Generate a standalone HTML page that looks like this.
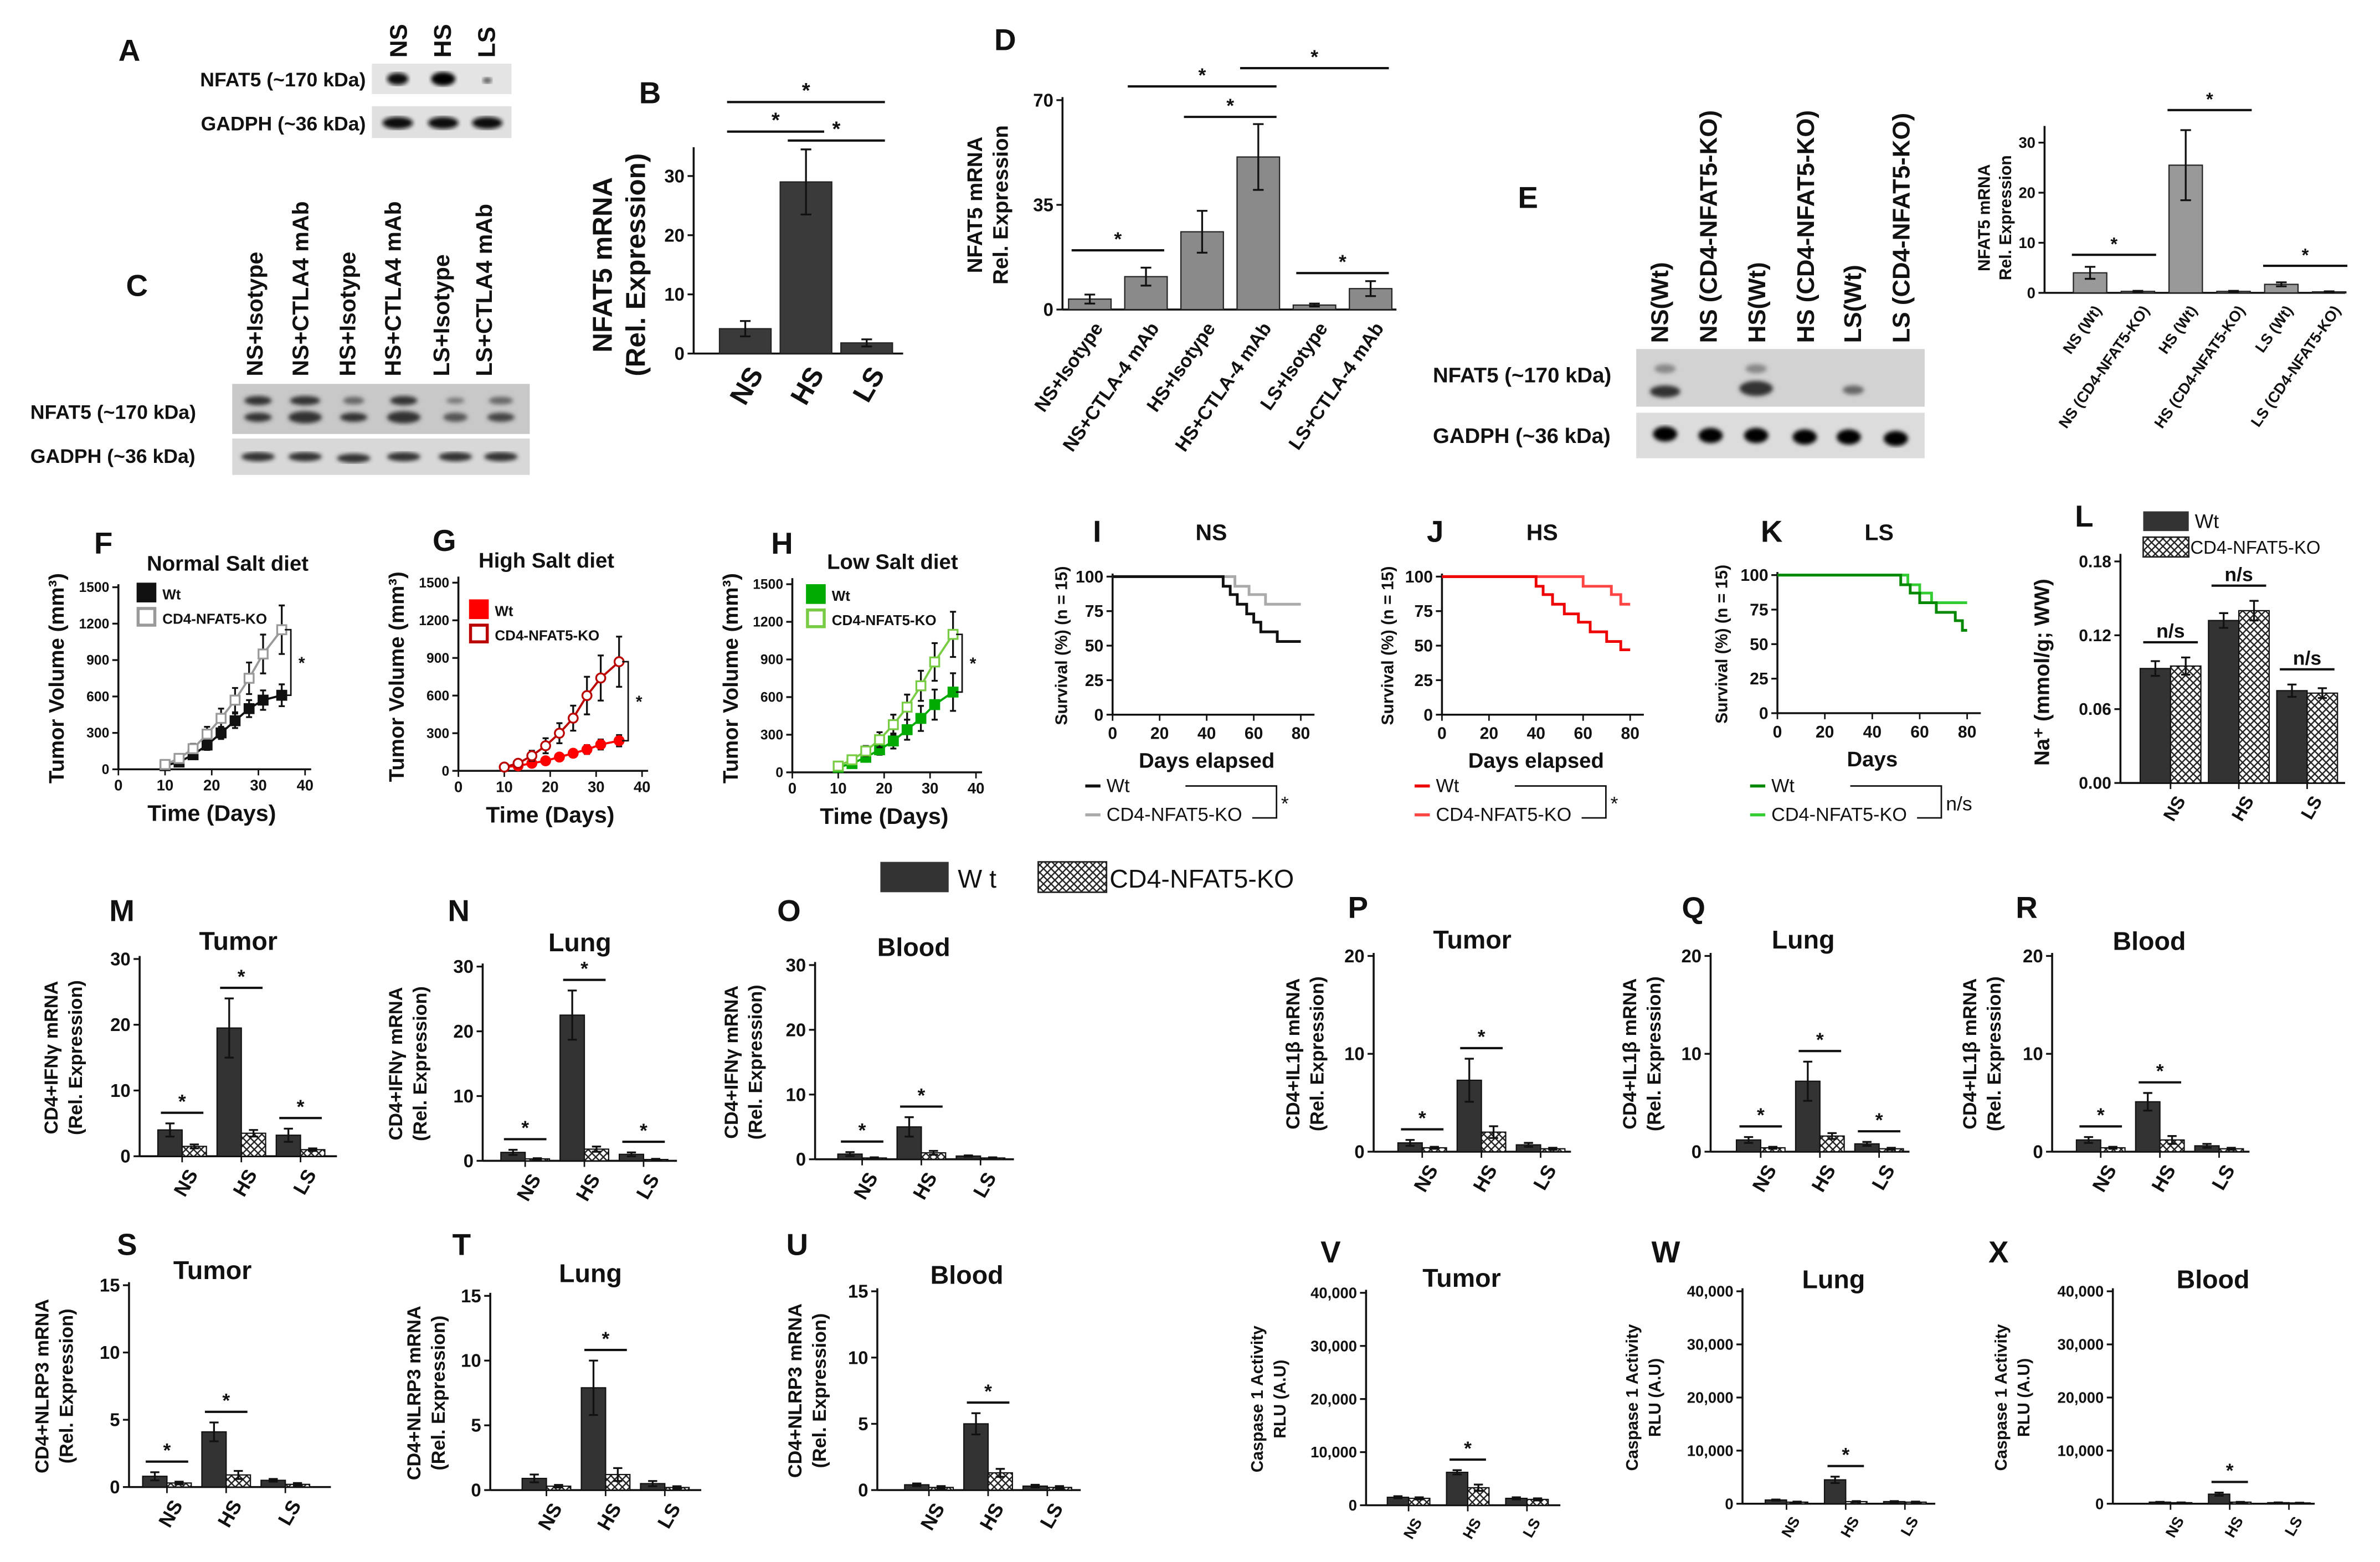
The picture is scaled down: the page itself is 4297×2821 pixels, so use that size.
<!DOCTYPE html>
<html><head><meta charset="utf-8">
<style>
html,body{margin:0;padding:0;background:#fff}
svg{display:block}
text{font-family:"Liberation Sans",Arial,sans-serif;font-weight:bold;fill:#111}
</style></head>
<body>
<svg id="fig" width="4297" height="2821" viewBox="0 0 1568 1029.4" preserveAspectRatio="none">
<defs>
<pattern id="hatch" width="5" height="5" patternUnits="userSpaceOnUse"><rect width="5" height="5" fill="#fff"/><path d="M0,0L5,5M5,0L0,5" stroke="#222" stroke-width="0.9"/></pattern>
<filter id="blur"><feGaussianBlur stdDeviation="1.4"/></filter>
</defs>

<!-- Panel A -->
<g>
<text x="78" y="40" font-size="20">A</text>
<text transform="translate(268,38) rotate(-90)" font-size="16">NS</text>
<text transform="translate(297,38) rotate(-90)" font-size="16">HS</text>
<text transform="translate(326,38) rotate(-90)" font-size="16">LS</text>
<text x="241" y="57" font-size="13" text-anchor="end">NFAT5 (~170 kDa)</text>
<text x="241" y="86" font-size="13" text-anchor="end">GADPH (~36 kDa)</text>
<rect x="245" y="42" width="92" height="20" fill="#e4e4e4"/>
<ellipse cx="262" cy="52" rx="7" ry="4" fill="#111" filter="url(#blur)"/>
<ellipse cx="292" cy="52" rx="8" ry="4.5" fill="#000" filter="url(#blur)"/>
<ellipse cx="321" cy="53" rx="3" ry="2" fill="#555" filter="url(#blur)"/>
<rect x="245" y="70" width="92" height="21" fill="#e0e0e0"/>
<ellipse cx="262" cy="81" rx="10" ry="4" fill="#111" filter="url(#blur)"/>
<ellipse cx="292" cy="81" rx="10" ry="4" fill="#111" filter="url(#blur)"/>
<ellipse cx="321" cy="81" rx="10" ry="4" fill="#111" filter="url(#blur)"/>
</g>

<!-- Panel C -->
<g>
<text x="83" y="195" font-size="20">C</text>
<text transform="translate(173,248) rotate(-90)" font-size="15">NS+Isotype</text>
<text transform="translate(203,248) rotate(-90)" font-size="15">NS+CTLA4 mAb</text>
<text transform="translate(234,248) rotate(-90)" font-size="15">HS+Isotype</text>
<text transform="translate(264,248) rotate(-90)" font-size="15">HS+CTLA4 mAb</text>
<text transform="translate(296,248) rotate(-90)" font-size="15">LS+Isotype</text>
<text transform="translate(324,248) rotate(-90)" font-size="15">LS+CTLA4 mAb</text>
<text x="20" y="276" font-size="13">NFAT5 (~170 kDa)</text>
<text x="20" y="305" font-size="13">GADPH (~36 kDa)</text>
<rect x="153" y="253" width="196" height="33" fill="#c8c8c8"/>
<g fill="#333" filter="url(#blur)">
<ellipse cx="170" cy="264" rx="9" ry="3"/><ellipse cx="170" cy="275" rx="9" ry="3"/>
<ellipse cx="201" cy="264" rx="10" ry="3"/><ellipse cx="201" cy="275" rx="11" ry="4"/>
<ellipse cx="233" cy="264" rx="7" ry="2.5" fill="#666"/><ellipse cx="233" cy="275" rx="9" ry="3"/>
<ellipse cx="266" cy="264" rx="9" ry="3"/><ellipse cx="266" cy="275" rx="11" ry="4"/>
<ellipse cx="300" cy="264" rx="6" ry="2" fill="#777"/><ellipse cx="300" cy="275" rx="8" ry="3" fill="#555"/>
<ellipse cx="330" cy="264" rx="8" ry="2.5" fill="#666"/><ellipse cx="330" cy="275" rx="9" ry="3" fill="#444"/>
</g>
<rect x="153" y="289" width="196" height="24" fill="#d8d8d8"/>
<g fill="#333" filter="url(#blur)">
<ellipse cx="170" cy="301" rx="11" ry="3"/><ellipse cx="201" cy="301" rx="11" ry="3"/><ellipse cx="233" cy="302" rx="11" ry="3"/>
<ellipse cx="266" cy="301" rx="11" ry="3"/><ellipse cx="300" cy="301" rx="11" ry="3"/><ellipse cx="330" cy="301" rx="11" ry="3"/>
</g>
</g>

<!-- Panel E -->
<g>
<text x="1000" y="137" font-size="20">E</text>
<text transform="translate(1099,226) rotate(-90)" font-size="16">NS(Wt)</text>
<text transform="translate(1131,226) rotate(-90)" font-size="16">NS (CD4-NFAT5-KO)</text>
<text transform="translate(1163,226) rotate(-90)" font-size="16">HS(Wt)</text>
<text transform="translate(1195,226) rotate(-90)" font-size="16">HS (CD4-NFAT5-KO)</text>
<text transform="translate(1226,226) rotate(-90)" font-size="16">LS(Wt)</text>
<text transform="translate(1258,226) rotate(-90)" font-size="16">LS (CD4-NFAT5-KO)</text>
<text x="944" y="252" font-size="14">NFAT5 (~170 kDa)</text>
<text x="944" y="292" font-size="14">GADPH (~36 kDa)</text>
<rect x="1078" y="230" width="190" height="38" fill="#d2d2d2"/>
<g fill="#333" filter="url(#blur)">
<ellipse cx="1097" cy="243" rx="7" ry="3" fill="#888"/><ellipse cx="1097" cy="258" rx="10" ry="4"/>
<ellipse cx="1157" cy="243" rx="7" ry="3" fill="#888"/><ellipse cx="1157" cy="256" rx="11" ry="5"/>
<ellipse cx="1221" cy="257" rx="7" ry="3" fill="#666"/>
</g>
<rect x="1078" y="272" width="190" height="30" fill="#dcdcdc"/>
<g fill="#000" filter="url(#blur)">
<ellipse cx="1097" cy="286" rx="8" ry="5"/><ellipse cx="1127" cy="287" rx="8" ry="5"/><ellipse cx="1157" cy="287" rx="8" ry="5"/>
<ellipse cx="1189" cy="288" rx="8" ry="5"/><ellipse cx="1218" cy="288" rx="8" ry="5"/><ellipse cx="1249" cy="289" rx="8" ry="5"/>
</g>
</g>

<!-- Central legend -->
<g>
<rect x="580" y="568" width="45" height="20" fill="#333"/>
<text x="631" y="585" font-size="17" style="font-weight:normal">W t</text>
<rect x="684" y="568" width="45" height="20" fill="url(#hatch)" stroke="#222"/>
<text x="731" y="585" font-size="17" style="font-weight:normal">CD4-NFAT5-KO</text>
</g>
</svg>

<script>
// ---------- DATA ----------
const saltCats = ['NS','HS','LS'];
const bVals = [4.2, 29, 1.8];
const bErrs = [1.3, 5.5, 0.6];
const dCats = ['NS+Isotype','NS+CTLA-4 mAb','HS+Isotype','HS+CTLA-4 mAb','LS+Isotype','LS+CTLA-4 mAb'];
const dVals = [3.5, 11, 26, 51, 1.5, 7];
const dErrs = [1.5, 3, 7, 11, 0.5, 2.5];
const eCats = ['NS (Wt)','NS (CD4-NFAT5-KO)','HS (Wt)','HS (CD4-NFAT5-KO)','LS (Wt)','LS (CD4-NFAT5-KO)'];
const eVals = [4, 0.3, 25.5, 0.3, 1.7, 0.2];
const eErrs = [1.2, 0.1, 7, 0.1, 0.4, 0.1];

const lWt = [0.093, 0.132, 0.075];
const lKo = [0.095, 0.140, 0.073];
const lWtErr = [0.006, 0.006, 0.005];
const lKoErr = [0.007, 0.008, 0.004];

const mWt = [4, 19.5, 3.2];  const mKo = [1.5, 3.5, 1.0];
const mWtErr = [1, 4.5, 1];  const mKoErr = [0.3, 0.5, 0.2];
const nWt = [1.3, 22.5, 1.0]; const nKo = [0.3, 1.8, 0.2];
const nWtErr = [0.4, 3.8, 0.3]; const nKoErr = [0.1, 0.4, 0.1];
const oWt = [0.8, 5.0, 0.5]; const oKo = [0.2, 1.0, 0.2];
const oWtErr = [0.3, 1.5, 0.1]; const oKoErr = [0.1, 0.3, 0.1];
const pWt = [0.9, 7.3, 0.7]; const pKo = [0.4, 2.0, 0.3];
const pWtErr = [0.3, 2.2, 0.2]; const pKoErr = [0.1, 0.6, 0.1];
const qWt = [1.2, 7.2, 0.8]; const qKo = [0.4, 1.6, 0.3];
const qWtErr = [0.3, 2.0, 0.2]; const qKoErr = [0.1, 0.3, 0.1];
const rWt = [1.2, 5.1, 0.6]; const rKo = [0.4, 1.2, 0.3];
const rWtErr = [0.3, 0.9, 0.2]; const rKoErr = [0.1, 0.4, 0.1];
const sWt = [0.8, 4.1, 0.5]; const sKo = [0.3, 0.9, 0.2];
const sWtErr = [0.3, 0.7, 0.1]; const sKoErr = [0.1, 0.3, 0.1];
const tWt = [0.9, 7.9, 0.5]; const tKo = [0.3, 1.2, 0.2];
const tWtErr = [0.3, 2.1, 0.2]; const tKoErr = [0.1, 0.5, 0.1];
const uWt = [0.4, 5.0, 0.3]; const uKo = [0.2, 1.3, 0.2];
const uWtErr = [0.1, 0.8, 0.1]; const uKoErr = [0.1, 0.3, 0.1];
const vWt = [1500, 6200, 1300]; const vKo = [1300, 3300, 1100];
const vWtErr = [200, 400, 200]; const vKoErr = [200, 600, 200];
const wWt = [700, 4500, 400]; const wKo = [300, 400, 300];
const wWtErr = [100, 600, 100]; const wKoErr = [100, 100, 100];
const xWt = [300, 1800, 200]; const xKo = [200, 300, 150];
const xWtErr = [50, 300, 50]; const xKoErr = [50, 50, 50];

const days = [10, 13, 16, 19, 22, 25, 28, 31, 35];
const fWt = [30, 60, 120, 200, 300, 400, 500, 570, 610];
const fWtErr = [10, 20, 30, 40, 50, 60, 70, 80, 90];
const fKo = [40, 90, 170, 290, 420, 570, 750, 950, 1150];
const fKoErr = [10, 20, 40, 60, 80, 100, 130, 160, 200];
const gWt = [30, 40, 60, 80, 110, 140, 170, 210, 240];
const gWtErr = [5, 10, 15, 20, 25, 30, 35, 40, 45];
const gKo = [30, 60, 120, 200, 300, 420, 600, 740, 870];
const gKoErr = [10, 20, 40, 60, 80, 100, 150, 180, 200];
const hWt = [40, 70, 120, 180, 250, 340, 430, 540, 640];
const hWtErr = [10, 20, 30, 40, 60, 80, 100, 120, 150];
const hKo = [50, 100, 170, 260, 380, 520, 690, 880, 1100];
const hKoErr = [10, 20, 40, 60, 80, 100, 120, 150, 180];

const iWtT = [0, 47, 50, 53, 57, 60, 63, 70, 80]; const iWtS = [100, 93, 87, 80, 73, 67, 60, 53, 53];
const iKoT = [0, 52, 58, 65, 80]; const iKoS = [100, 93, 87, 80, 80];
const jWtT = [0, 40, 43, 47, 52, 58, 63, 70, 76, 80]; const jWtS = [100, 93, 87, 80, 73, 67, 60, 53, 47, 47];
const jKoT = [0, 60, 72, 76, 80]; const jKoS = [100, 93, 87, 80, 80];
const kWtT = [0, 52, 56, 60, 67, 75, 78, 80]; const kWtS = [100, 93, 87, 80, 73, 67, 60, 60];
const kKoT = [0, 55, 60, 65, 80]; const kKoS = [100, 93, 87, 80, 80];

// ---------- HELPERS ----------
const svg = document.getElementById('fig');
const SVGNS = svg.namespaceURI;
function mk(tag, attrs, parent) {
  const e = document.createElementNS(SVGNS, tag);
  for (const k in attrs) e.setAttribute(k, attrs[k]);
  (parent || svg).appendChild(e);
  return e;
}
function tx(s, attrs, parent) { const e = mk('text', attrs, parent); e.textContent = s; return e; }
function fmtComma(v) { return v.toString().replace(/\B(?=(\d{3})+(?!\d))/g, ','); }

function yAxis(g, p) {
  const ys = v => p.y0 - v / p.max * (p.y0 - p.yT);
  const ax = mk('line', {x1: p.ax, y1: p.axTop, x2: p.ax, y2: p.y0, stroke: '#111', 'stroke-width': 1.3}, g);
  
  
  const xa = mk('line', {x1: p.ax, y1: p.y0, x2: p.xEnd, y2: p.y0, stroke: '#111', 'stroke-width': 1.3}, g);
  
  
  p.ticks.forEach(t => {
    const y = ys(t);
    const tk = mk('line', {x1: p.ax - 4, y1: y, x2: p.ax, y2: y, stroke: '#111', 'stroke-width': 1.2}, g);
    
    
    const lb = tx(p.fmt ? p.fmt(t) : String(t), {x: p.ax - 6, y: y, dy: '0.35em', 'font-size': p.tf, 'text-anchor': 'end'}, g);
    
    
  });
  p.yl.forEach((s, i) => {
    const cy = (p.y0 + p.yT) / 2;
    const t = tx(s, {x: p.ylx[i], y: cy, 'font-size': p.ylf, 'text-anchor': 'middle', transform: 'rotate(-90 ' + p.ylx[i] + ' ' + cy + ')'}, g);
    
    
  });
  if (p.letter) {
    const l = tx(p.letter, {x: p.lx, y: p.ly, 'font-size': 20}, g);
    
    
  }
  if (p.title) {
    const t = tx(p.title, {x: p.tx, y: p.ty, 'font-size': p.titf || 17, 'text-anchor': 'middle'}, g);
    
    
  }
  return ys;
}

function errBar(g, x, yTop, yBot, w) {
  const e = mk('path', {d: 'M' + x + ',' + yBot + 'V' + yTop + 'M' + (x - w) + ',' + yTop + 'H' + (x + w) + 'M' + (x - w) + ',' + yBot + 'H' + (x + w), stroke: '#111', 'stroke-width': 1.2, fill: 'none'}, g);
  
  
}
function star(g, x1, x2, y, label, fs) {
  const l = mk('line', {x1: x1, y1: y, x2: x2, y2: y, stroke: '#111', 'stroke-width': 1.5}, g);
  
  
  const t = tx(label, {x: (x1 + x2) / 2, y: y - 3, 'font-size': fs || 13, 'text-anchor': 'middle'}, g);
  
  
}
function catLabel(g, s, x, y, fs, rot) {
  const t = tx(s, {x: x, y: y, 'font-size': fs, 'text-anchor': 'end', dy: '0.6em', transform: 'rotate(' + rot + ' ' + x + ' ' + y + ')'}, g);
  
  
}

function groupPanel(p, cats, wt, ko, wtE, koE, sigGroups, sigText) {
  const g = mk('g', {});
  
  
  const ys = yAxis(g, p);
  cats.forEach((c, i) => {
    const cx = p.gx0 + i * p.gdx;
    const x1 = cx - p.bw, x2 = cx;
    const b1 = mk('rect', {x: x1, y: ys(wt[i]), width: p.bw, height: p.y0 - ys(wt[i]), fill: '#333', stroke: '#111', 'stroke-width': 0.8}, g);
    
    
    const b2 = mk('rect', {x: x2, y: ys(ko[i]), width: p.bw, height: p.y0 - ys(ko[i]), fill: 'url(#hatch)', stroke: '#111', 'stroke-width': 0.8}, g);
    
    
    errBar(g, x1 + p.bw / 2, ys(wt[i] + wtE[i]), ys(Math.max(0, wt[i] - wtE[i])), 3);
    errBar(g, x2 + p.bw / 2, ys(ko[i] + koE[i]), ys(Math.max(0, ko[i] - koE[i])), 3);
    const tk = mk('line', {x1: cx, y1: p.y0, x2: cx, y2: p.y0 + 4, stroke: '#111'}, g);
    
    
    catLabel(g, c, cx + 4, p.y0 + 8, p.cf, -60);
  });
  sigGroups.forEach(i => {
    const cx = p.gx0 + i * p.gdx;
    const top = Math.min(ys(wt[i] + wtE[i]), ys(ko[i] + koE[i]));
    star(g, cx - p.bw + 2, cx + p.bw - 2, top - (p.sigGap || 7), sigText || '*', p.sf);
  });
}

function singlePanel(p, cats, vals, errs, sigs) {
  const g = mk('g', {});
  
  
  const ys = yAxis(g, p);
  cats.forEach((c, i) => {
    const cx = p.gx0 + i * p.gdx;
    const b = mk('rect', {x: cx - p.bw / 2, y: ys(vals[i]), width: p.bw, height: p.y0 - ys(vals[i]), fill: p.fill, stroke: '#222', 'stroke-width': 0.8}, g);
    
    
    errBar(g, cx, ys(vals[i] + errs[i]), ys(Math.max(0, vals[i] - errs[i])), 3.5);
    catLabel(g, c, cx + 3, p.y0 + 8, p.cf, p.rot);
  });
  sigs.forEach(s => {
    const a = p.gx0 + s[0] * p.gdx, b = p.gx0 + s[1] * p.gdx;
    star(g, a - 12, b + 12, ys(s[2]), '*', p.sf);
  });
}

function linePanel(p, dd, wt, wtE, ko, koE) {
  const g = mk('g', {});
  
  
  const ys = yAxis(g, p);
  const xs = d => p.ax + d / 40 * (p.x40 - p.ax);
  [0, 10, 20, 30, 40].forEach(d => {
    const t = mk('line', {x1: xs(d), y1: p.y0, x2: xs(d), y2: p.y0 + 4, stroke: '#111'}, g);
    
    
    const l = tx(String(d), {x: xs(d), y: p.y0 + 14, 'font-size': 10, 'text-anchor': 'middle'}, g);
    
    
  });
  const xt = tx('Time (Days)', {x: (p.ax + p.x40) / 2, y: p.y0 + 34, 'font-size': 15, 'text-anchor': 'middle'}, g);
  
  
  [[wt, wtE, p.cWt, true, 'wt'], [ko, koE, p.cKo, false, 'ko']].forEach(sr => {
    const vals = sr[0], err = sr[1], col = sr[2], filled = sr[3];
    vals.forEach((v, i) => errBar(g, xs(dd[i]), ys(v + err[i]), ys(Math.max(0, v - err[i])), 2));
    const pl = mk('polyline', {points: vals.map((v, i) => xs(dd[i]) + ',' + ys(v)).join(' '), fill: 'none', stroke: col, 'stroke-width': 1.4}, g);
    
    
    vals.forEach((v, i) => {
      const m = p.marker === 'circle'
        ? mk('circle', {cx: xs(dd[i]), cy: ys(v), r: 3, fill: filled ? col : '#fff', stroke: col, 'stroke-width': 1.2}, g)
        : mk('rect', {x: xs(dd[i]) - 3, y: ys(v) - 3, width: 6, height: 6, fill: filled ? col : '#fff', stroke: col, 'stroke-width': 1.2}, g);
      
      
    });
  });
  const xe = xs(dd[dd.length - 1]) + 6;
  const br = mk('path', {d: 'M' + (xe - 4) + ',' + ys(ko[ko.length - 1]) + 'H' + xe + 'V' + ys(wt[wt.length - 1]) + 'H' + (xe - 4), fill: 'none', stroke: '#111'}, g);
  
  
  const st = tx('*', {x: xe + 5, y: (ys(ko[ko.length - 1]) + ys(wt[wt.length - 1])) / 2 + 4, 'font-size': 11}, g);
  
  
  [[p.cWt, true, 'Wt', 0], [p.cKo, false, 'CD4-NFAT5-KO', 16]].forEach(l => {
    const r = mk('rect', {x: p.legX, y: p.legY + l[3] - 6, width: 11, height: 11, fill: l[1] ? l[0] : '#fff', stroke: l[0], 'stroke-width': 2}, g);
    
    
    const t = tx(l[2], {x: p.legX + 16, y: p.legY + l[3] + 4, 'font-size': 9.5}, g);
    
    
  });
}

function survPanel(p, wT, wS, kT, kS) {
  const g = mk('g', {});
  
  
  const ys = yAxis(g, p);
  const xs = d => p.ax + d / 80 * (p.x80 - p.ax);
  [0, 20, 40, 60, 80].forEach(d => {
    const t = mk('line', {x1: xs(d), y1: p.y0, x2: xs(d), y2: p.y0 + 4, stroke: '#111'}, g);
    
    
    const l = tx(String(d), {x: xs(d), y: p.y0 + 16, 'font-size': 11, 'text-anchor': 'middle'}, g);
    
    
  });
  const xt = tx(p.xlab, {x: (p.ax + p.x80) / 2, y: p.y0 + 35, 'font-size': 14, 'text-anchor': 'middle'}, g);
  
  
  [[kT, kS, p.cKo, 'ko'], [wT, wS, p.cWt, 'wt']].forEach(sr => {
    let d = 'M' + xs(sr[0][0]) + ',' + ys(sr[1][0]);
    for (let i = 1; i < sr[0].length; i++) d += 'H' + xs(sr[0][i]) + 'V' + ys(sr[1][i]);
    const pa = mk('path', {d: d, fill: 'none', stroke: sr[2], 'stroke-width': 1.8}, g);
    
    
  });
  const lx = p.ax - 18;
  [[p.cWt, 'Wt', 522], [p.cKo, 'CD4-NFAT5-KO', 541]].forEach(l => {
    const s = mk('line', {x1: lx, y1: l[2] - 4, x2: lx + 10, y2: l[2] - 4, stroke: l[0], 'stroke-width': 2}, g);
    
    
    const t = tx(l[1], {x: lx + 14, y: l[2], 'font-size': 12.5, style: 'font-weight:normal'}, g);
    
    
  });
  const bx = p.ax + 108;
  const br = mk('path', {d: 'M' + (p.ax + 48) + ',518H' + bx + 'V539H' + (p.ax + 92), fill: 'none', stroke: '#111'}, g);
  
  
  const st = tx(p.sig, {x: bx + 3, y: 534, 'font-size': 13, style: 'font-weight:normal'}, g);
  
  
}

// ---------- PANELS ----------
singlePanel({id:'b', ax:457, y0:233, yT:116, max:30, ticks:[0,10,20,30], axTop:97, xEnd:595, gx0:491, gdx:40, bw:34, fill:'#3a3a3a', tf:12, cf:18, rot:-60, sf:14,
  yl:['NFAT5 mRNA','(Rel. Expression)'], ylx:[403,425], ylf:18, letter:'B', lx:421, ly:68}, saltCats, bVals, bErrs, [[0,1,37.5],[1,2,36],[0,2,42.5]]);
singlePanel({id:'d', ax:700, y0:204, yT:66, max:70, ticks:[0,35,70], axTop:64, xEnd:920, gx0:718, gdx:37, bw:28, fill:'#8a8a8a', tf:12, cf:12.5, rot:-55, sf:13,
  yl:['NFAT5 mRNA','Rel. Expression'], ylx:[647,664], ylf:14, letter:'D', lx:655, ly:33}, dCats, dVals, dErrs, [[0,1,19.8],[2,3,64.4],[1,3,74.6],[4,5,12.2],[3,5,80.7]]);
singlePanel({id:'e-chart', ax:1347, y0:193, yT:94, max:30, ticks:[0,10,20,30], axTop:83, xEnd:1545, gx0:1377, gdx:31.5, bw:22, fill:'#999', tf:10, cf:10, rot:-55, sf:12,
  yl:['NFAT5 mRNA','Rel. Expression'], ylx:[1311,1325], ylf:11}, eCats, eVals, eErrs, [[0,1,7.6],[2,3,36.5],[4,5,5.4]]);

groupPanel({id:'l', ax:1397, y0:516, yT:370, max:0.18, ticks:[0,0.06,0.12,0.18], fmt:v=>v.toFixed(2), axTop:365, xEnd:1545, gx0:1430, gdx:45, bw:20, tf:11, cf:12, sf:13,
  yl:['Na⁺ (mmol/g; WW)'], ylx:[1350], ylf:14, letter:'L', lx:1367, ly:347, sigGap:10}, saltCats, lWt, lKo, lWtErr, lKoErr, [0,1,2], 'n/s');
(function(){
  const g = mk('g', {});
  
  
  const r1 = mk('rect', {x:1412, y:337, width:30, height:13, fill:'#333'}, g);
  
  
  const t1 = tx('Wt', {x:1446, y:348, 'font-size':13, style:'font-weight:normal'}, g);
  
  
  const r2 = mk('rect', {x:1412, y:354, width:30, height:13, fill:'url(#hatch)', stroke:'#222'}, g);
  
  
  const t2 = tx('CD4-NFAT5-KO', {x:1443, y:365, 'font-size':12, style:'font-weight:normal'}, g);
  
  
})();

linePanel({id:'f', ax:78, x40:201, y0:507, yT:387, max:1500, ticks:[0,300,600,900,1200,1500], axTop:385, xEnd:205, tf:9, yl:['Tumor Volume (mm³)'], ylx:[42], ylf:14,
  letter:'F', lx:62, ly:365, title:'Normal Salt diet', tx:150, ty:376, titf:14, cWt:'#111', cKo:'#999', marker:'square', legX:91, legY:391}, days, fWt, fWtErr, fKo, fKoErr);
linePanel({id:'g', ax:302, x40:423, y0:508, yT:384, max:1500, ticks:[0,300,600,900,1200,1500], axTop:380, xEnd:427, tf:9, yl:['Tumor Volume (mm³)'], ylx:[266], ylf:14,
  letter:'G', lx:285, ly:363, title:'High Salt diet', tx:360, ty:374, titf:14, cWt:'#f00', cKo:'#b00', marker:'circle', legX:310, legY:402}, days, gWt, gWtErr, gKo, gKoErr);
linePanel({id:'h', ax:522, x40:643, y0:509, yT:385, max:1500, ticks:[0,300,600,900,1200,1500], axTop:381, xEnd:647, tf:9, yl:['Tumor Volume (mm³)'], ylx:[486], ylf:14,
  letter:'H', lx:508, ly:365, title:'Low Salt diet', tx:588, ty:375, titf:14, cWt:'#0a0', cKo:'#7c4', marker:'square', legX:532, legY:392}, days, hWt, hWtErr, hKo, hKoErr);

survPanel({id:'i', ax:733, x80:857, y0:471, yT:380, max:100, ticks:[0,25,50,75,100], axTop:378, xEnd:866, tf:11, yl:['Survival (%) (n = 15)'], ylx:[703], ylf:11,
  letter:'I', lx:720, ly:357, title:'NS', tx:798, ty:356, titf:15, cWt:'#111', cKo:'#aaa', xlab:'Days elapsed', sig:'*'}, iWtT, iWtS, iKoT, iKoS);
survPanel({id:'j', ax:950, x80:1074, y0:471, yT:380, max:100, ticks:[0,25,50,75,100], axTop:378, xEnd:1083, tf:11, yl:['Survival (%) (n = 15)'], ylx:[918], ylf:11,
  letter:'J', lx:940, ly:357, title:'HS', tx:1016, ty:356, titf:15, cWt:'#e00', cKo:'#f44', xlab:'Days elapsed', sig:'*'}, jWtT, jWtS, jKoT, jKoS);
survPanel({id:'k', ax:1171, x80:1296, y0:470, yT:379, max:100, ticks:[0,25,50,75,100], axTop:377, xEnd:1305, tf:11, yl:['Survival (%) (n = 15)'], ylx:[1138], ylf:11,
  letter:'K', lx:1160, ly:357, title:'LS', tx:1238, ty:356, titf:15, cWt:'#080', cKo:'#3c3', xlab:'Days', sig:'n/s'}, kWtT, kWtS, kKoT, kKoS);

const ifg = ['CD4+IFNγ mRNA','(Rel. Expression)'];
const il1 = ['CD4+IL1β mRNA','(Rel. Expression)'];
const nlr = ['CD4+NLRP3 mRNA','(Rel. Expression)'];
const cas = ['Caspase 1 Activity','RLU (A.U)'];
function rowCfg(o) { return Object.assign({tf:12, cf:13, sf:13, bw:16, gdx:39, ylf:12.5}, o); }
groupPanel(rowCfg({id:'m', ax:92, y0:762, yT:632, max:30, ticks:[0,10,20,30], axTop:630, xEnd:222, gx0:120, yl:ifg, ylx:[38,54], letter:'M', lx:72, ly:607, title:'Tumor', tx:157, ty:626}), saltCats, mWt, mKo, mWtErr, mKoErr, [0,1,2]);
groupPanel(rowCfg({id:'n', ax:318, y0:765, yT:637, max:30, ticks:[0,10,20,30], axTop:635, xEnd:446, gx0:346, yl:ifg, ylx:[265,281], letter:'N', lx:295, ly:607, title:'Lung', tx:382, ty:627}), saltCats, nWt, nKo, nWtErr, nKoErr, [0,1,2]);
groupPanel(rowCfg({id:'o', ax:537, y0:764, yT:636, max:30, ticks:[0,10,20,30], axTop:634, xEnd:668, gx0:568, yl:ifg, ylx:[486,502], letter:'O', lx:512, ly:607, title:'Blood', tx:602, ty:630}), saltCats, oWt, oKo, oWtErr, oKoErr, [0,1]);
groupPanel(rowCfg({id:'p', ax:905, y0:759, yT:630, max:20, ticks:[0,10,20], axTop:628, xEnd:1035, gx0:937, yl:il1, ylx:[856,872], letter:'P', lx:888, ly:605, title:'Tumor', tx:970, ty:625}), saltCats, pWt, pKo, pWtErr, pKoErr, [0,1]);
groupPanel(rowCfg({id:'q', ax:1127, y0:759, yT:630, max:20, ticks:[0,10,20], axTop:628, xEnd:1258, gx0:1160, yl:il1, ylx:[1078,1094], letter:'Q', lx:1108, ly:605, title:'Lung', tx:1188, ty:625}), saltCats, qWt, qKo, qWtErr, qKoErr, [0,1,2]);
groupPanel(rowCfg({id:'r', ax:1352, y0:759, yT:630, max:20, ticks:[0,10,20], axTop:628, xEnd:1482, gx0:1384, yl:il1, ylx:[1302,1318], letter:'R', lx:1328, ly:605, title:'Blood', tx:1416, ty:626}), saltCats, rWt, rKo, rWtErr, rKoErr, [0,1]);
groupPanel(rowCfg({id:'s', ax:85, y0:980, yT:847, max:15, ticks:[0,5,10,15], axTop:845, xEnd:218, gx0:110, yl:nlr, ylx:[32,48], letter:'S', lx:77, ly:827, title:'Tumor', tx:140, ty:843}), saltCats, sWt, sKo, sWtErr, sKoErr, [0,1]);
groupPanel(rowCfg({id:'t', ax:323, y0:982, yT:854, max:15, ticks:[0,5,10,15], axTop:852, xEnd:462, gx0:360, yl:nlr, ylx:[277,293], letter:'T', lx:298, ly:827, title:'Lung', tx:389, ty:845}), saltCats, tWt, tKo, tWtErr, tKoErr, [1]);
groupPanel(rowCfg({id:'u', ax:578, y0:982, yT:851, max:15, ticks:[0,5,10,15], axTop:849, xEnd:712, gx0:612, yl:nlr, ylx:[528,544], letter:'U', lx:518, ly:827, title:'Blood', tx:637, ty:846}), saltCats, uWt, uKo, uWtErr, uKoErr, [1]);
groupPanel(rowCfg({id:'v', ax:900, y0:992, yT:852, max:40000, ticks:[0,10000,20000,30000,40000], fmt:fmtComma, axTop:850, xEnd:1028, gx0:928, bw:14, tf:10, cf:10, yl:cas, ylx:[832,847], ylf:11, letter:'V', lx:870, ly:832, title:'Tumor', tx:963, ty:848}), saltCats, vWt, vKo, vWtErr, vKoErr, [1]);
groupPanel(rowCfg({id:'w', ax:1148, y0:991, yT:851, max:40000, ticks:[0,10000,20000,30000,40000], fmt:fmtComma, axTop:849, xEnd:1275, gx0:1177, bw:14, tf:10, cf:10, yl:cas, ylx:[1079,1094], ylf:11, letter:'W', lx:1088, ly:832, title:'Lung', tx:1208, ty:849}), saltCats, wWt, wKo, wWtErr, wKoErr, [1]);
groupPanel(rowCfg({id:'x', ax:1392, y0:991, yT:851, max:40000, ticks:[0,10000,20000,30000,40000], fmt:fmtComma, axTop:849, xEnd:1525, gx0:1430, bw:14, tf:10, cf:10, yl:cas, ylx:[1322,1337], ylf:11, letter:'X', lx:1310, ly:832, title:'Blood', tx:1458, ty:849}), saltCats, xWt, xKo, xWtErr, xKoErr, [1]);
</script>
</body></html>
